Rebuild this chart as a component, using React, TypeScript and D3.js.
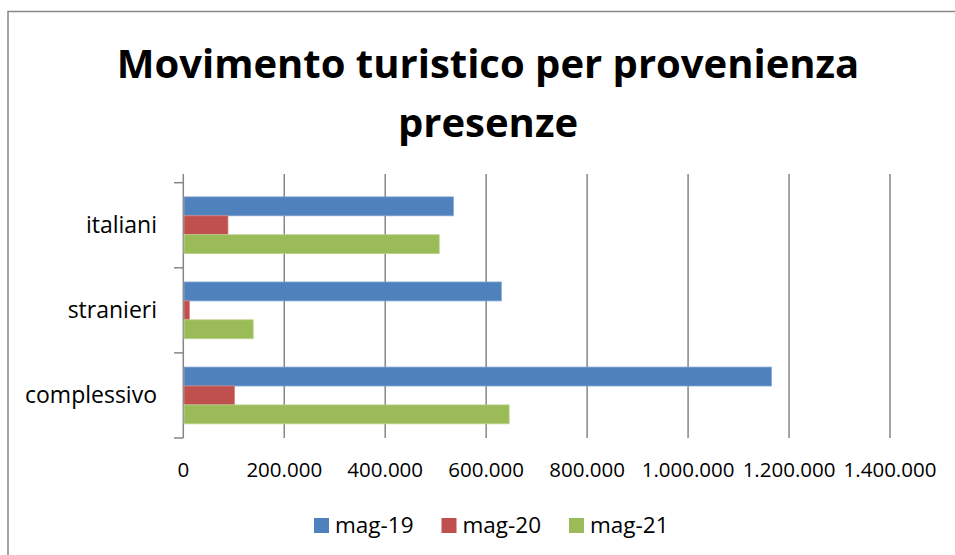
import * as d3 from "d3";

// ── Data ──────────────────────────────────────────────────────────────────────
const categories = ["italiani", "stranieri", "complessivo"];
const seriesNames = ["mag-19", "mag-20", "mag-21"];
const mag19 = [535000, 630000, 1165000];
const mag20 = [88500, 12000, 101500];
const mag21 = [507000, 138500, 645500];
const xTicks = [0, 200000, 400000, 600000, 800000, 1000000, 1200000, 1400000];

const SERIES = [mag19, mag20, mag21];
const COLORS = ["#4F81BD", "#C0504D", "#9BBB59"];
const EDGES = ["#7FA3D3", "#D7817F", "#BBD28A"];

const W = 955;
const H = 555;
const FONT = "'Open Sans', 'Liberation Sans', sans-serif";
const AXIS = "#868686";

const it = d3.formatLocale({ decimal: ",", thousands: ".", grouping: [3], currency: ["€", ""] });
const fmt = it.format(",d");

export default function App() {
  const x = d3.scaleLinear().domain([0, 1400000]).range([183.3, 890]);
  const y = d3.scaleBand().domain(categories).range([182.7, 438]).paddingInner(0).paddingOuter(0);
  const inner = d3
    .scaleBand()
    .domain(seriesNames)
    .range([0, y.bandwidth()])
    .paddingInner(0)
    .paddingOuter(0.75);

  const gridTop = 174;
  const gridBottom = 438;
  const catTicks = [...categories.map((c) => y(c) as number), gridBottom];

  return (
    <div style={{ position: "fixed", left: 0, top: 0, width: W, height: H, background: "#fff" }}>
      <svg width={W} height={H} style={{ display: "block" }}>
        <rect x={0} y={0} width={W} height={H} fill="#fff" />
        {/* chart border */}
        <rect x={8} y={11.5} width={W + 20} height={H + 20} fill="none" stroke="#878787" strokeWidth={1.5} />

        {/* title */}
        <text x={488} y={78} textAnchor="middle" fontFamily={FONT} fontWeight="bold" fontSize={40} fill="#000">
          Movimento turistico per provenienza
        </text>
        <text x={488} y={137} textAnchor="middle" fontFamily={FONT} fontWeight="bold" fontSize={40} fill="#000">
          presenze
        </text>

        {/* grid lines */}
        {xTicks.map((t) => (
          <line key={t} x1={x(t)} x2={x(t)} y1={gridTop} y2={gridBottom} stroke={AXIS} strokeWidth={1.5} />
        ))}

        {/* category ticks */}
        {catTicks.map((ty, i) => (
          <line key={i} x1={174} x2={x(0)} y1={ty} y2={ty} stroke={AXIS} strokeWidth={1.5} />
        ))}

        {/* bars */}
        {categories.map((c, ci) => (
          <g key={c} transform={`translate(0,${y(c)})`}>
            {seriesNames.map((s, si) => (
              <rect
                key={s}
                x={x(0) + 0.75}
                y={inner(s)}
                width={x(SERIES[si][ci]) - x(0) - 0.75}
                height={inner.bandwidth()}
                fill={COLORS[si]}
                stroke={EDGES[si]}
                strokeWidth={0.8}
              />
            ))}
          </g>
        ))}

        {/* category labels */}
        {categories.map((c) => (
          <text
            key={c}
            x={157}
            y={(y(c) as number) + y.bandwidth() / 2 + 8}
            textAnchor="end"
            fontFamily={FONT}
            fontSize={23}
            fill="#000"
          >
            {c}
          </text>
        ))}

        {/* value tick labels */}
        {xTicks.map((t) => (
          <text key={t} x={x(t)} y={477} textAnchor="middle" fontFamily={FONT} fontSize={20.5} fill="#000">
            {fmt(t)}
          </text>
        ))}

        {/* legend */}
        {seriesNames.map((s, i) => {
          const lx = 314 + i * 127.5;
          return (
            <g key={s}>
              <rect x={lx} y={518} width={15} height={15} fill={COLORS[i]} />
              <text x={lx + 21} y={533} fontFamily={FONT} fontSize={22.5} fill="#000">
                {s}
              </text>
            </g>
          );
        })}
      </svg>
    </div>
  );
}
